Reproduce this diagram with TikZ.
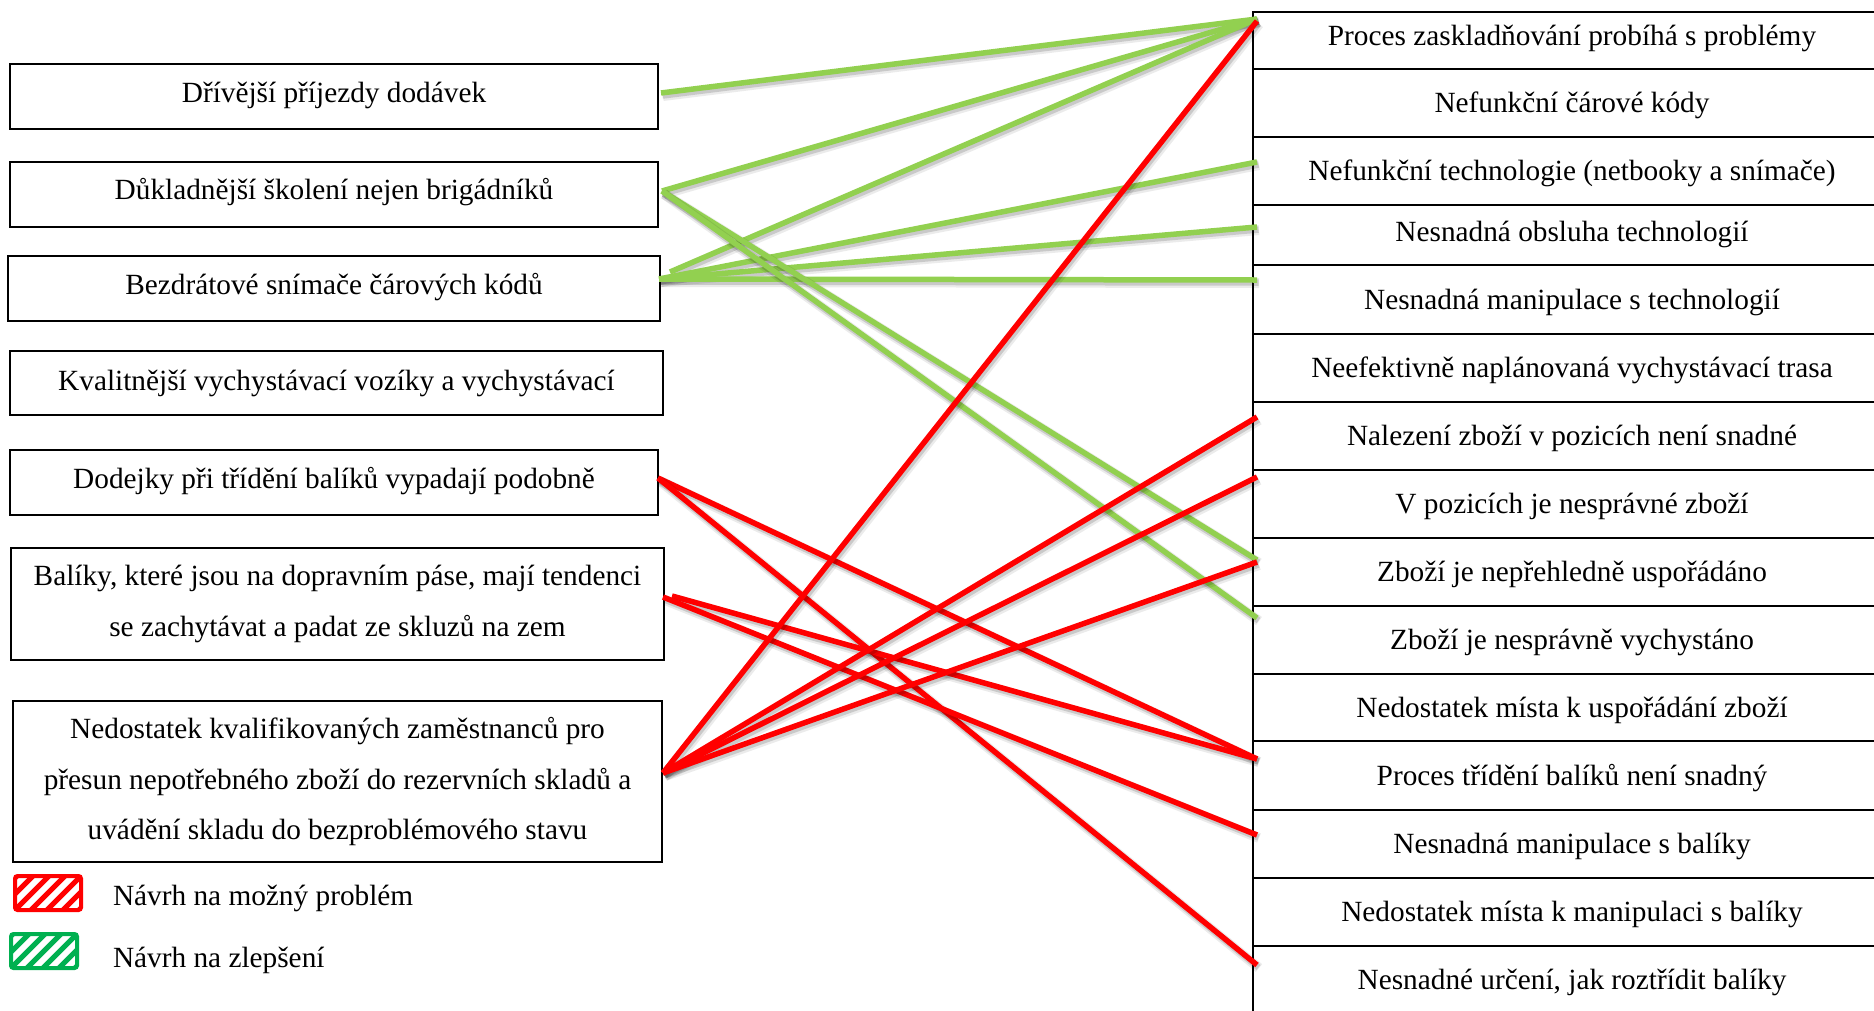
\documentclass[tikz,border=0pt]{standalone}
\usepackage{fontspec}
\setmainfont{Liberation Serif}
\definecolor{linkgreen}{HTML}{92D050}
\definecolor{legendgreen}{HTML}{00B050}
\definecolor{linkred}{HTML}{FF0000}

% one connector: two soft grey offset strokes under the coloured line
\newcommand\linkline[3]{%
  \draw[softshadowwide] ([shift={(2,3)}]#2) -- ([shift={(2,3)}]#3);
  \draw[softshadowthin] ([shift={(1.5,2.5)}]#2) -- ([shift={(1.5,2.5)}]#3);
  \draw[#1] (#2) -- (#3);}

\begin{document}
\begin{tikzpicture}[x=1pt, y=-1pt,
  every node/.style={font=\fontsize{29.3}{50.5}\selectfont, inner sep=0pt, outer sep=0pt},
  cause/.style={draw=black, line width=1.6pt, align=center},
  effect/.style={anchor=north west, minimum width=638pt, text height=24pt, text depth=5pt},
  tablerule/.style={draw=black, line width=2.6pt},
  softshadowwide/.style={draw=black, draw opacity=0.08, line width=10pt},
  softshadowthin/.style={draw=black, draw opacity=0.14, line width=6.5pt},
  improve/.style={draw=linkgreen, line width=5.5pt},
  problem/.style={draw=linkred, line width=5.5pt},
  legendbox/.style={draw=#1, line width=4pt, rounded corners=2.5pt,
    minimum width=66pt, minimum height=34pt,
    path picture={\foreach \k in {-3,...,6}{
      \draw[#1, line width=5pt] ([xshift=\k*16pt]path picture bounding box.south west) -- ++(40,-40);}}},
]
\useasboundingbox (0,0) rectangle (1874,1010);
\fill[white] (0,0) rectangle (1874,1010);

% ---- proposals (left column)
\node[cause, minimum width=648pt, minimum height=65pt, text height=20pt, text depth=9pt]
  (b1) at (334,96.5) {Dřívější příjezdy dodávek};
\node[cause, minimum width=648pt, minimum height=65pt, text height=20pt, text depth=10pt]
  (b2) at (334,194.5) {Důkladnější školení nejen brigádníků};
\node[cause, minimum width=652pt, minimum height=65pt, text height=21pt, text depth=9pt]
  (b3) at (334,288.5) {Bezdrátové snímače čárových kódů};
\node[cause, minimum width=653pt, minimum height=64pt, text height=21pt, text depth=7pt]
  (b4) at (336.5,383) {Kvalitnější vychystávací vozíky a vychystávací};
\node[cause, minimum width=648pt, minimum height=65pt, text height=20pt, text depth=9pt]
  (b5) at (334,482.5) {Dodejky při třídění balíků vypadají podobně};
\node[cause, minimum width=653pt, minimum height=112pt]
  (b6) at (337.5,604) {Balíky, které jsou na dopravním páse, mají tendenci\\se zachytávat a padat ze skluzů na zem};
\node[cause, minimum width=649pt, minimum height=161pt]
  (b7) at (337.5,781.5) {Nedostatek kvalifikovaných zaměstnanců pro\\přesun nepotřebného zboží do rezervních skladů a\\uvádění skladu do bezproblémového stavu};

% ---- problems (right column, one row each)
\node[effect, minimum height=57pt, text height=20pt, text depth=11pt] (r1) at (1253,12) {Proces zaskladňování probíhá s problémy};
\node[effect, minimum height=68pt] (r2) at (r1.south west) {Nefunkční čárové kódy};
\node[effect, minimum height=68pt] (r3) at (r2.south west) {Nefunkční technologie (netbooky a snímače)};
\node[effect, minimum height=60pt, text height=21pt, text depth=9pt] (r4) at (r3.south west) {Nesnadná obsluha technologií};
\node[effect, minimum height=69pt] (r5) at (r4.south west) {Nesnadná manipulace s technologií};
\node[effect, minimum height=68pt] (r6) at (r5.south west) {Neefektivně naplánovaná vychystávací trasa};
\node[effect, minimum height=68pt] (r7) at (r6.south west) {Nalezení zboží v pozicích není snadné};
\node[effect, minimum height=68pt] (r8) at (r7.south west) {V pozicích je nesprávné zboží};
\node[effect, minimum height=68pt] (r9) at (r8.south west) {Zboží je nepřehledně uspořádáno};
\node[effect, minimum height=68pt] (r10) at (r9.south west) {Zboží je nesprávně vychystáno};
\node[effect, minimum height=67pt] (r11) at (r10.south west) {Nedostatek místa k uspořádání zboží};
\node[effect, minimum height=69pt] (r12) at (r11.south west) {Proces třídění balíků není snadný};
\node[effect, minimum height=68pt] (r13) at (r12.south west) {Nesnadná manipulace s balíky};
\node[effect, minimum height=68pt] (r14) at (r13.south west) {Nedostatek místa k manipulaci s balíky};
\node[effect, minimum height=66pt, text height=25pt, text depth=5pt] (r15) at (r14.south west) {Nesnadné určení, jak roztřídit balíky};

% table rules
\draw[tablerule] (r1.north east) -- (r1.north west) -- (r15.south west);
\foreach \r in {r2,r3,r4,r5,r6,r7,r8,r9,r10,r11,r12,r13,r14,r15}
  \draw[tablerule] (\r.north west) -- (\r.north east);

% ---- connector end points
\coordinate (sB1)  at ([shift={(3,-3.5)}]b1.east);
\coordinate (sB2)  at ([shift={(4,-3.5)}]b2.east);
\coordinate (sB3)  at ([shift={(-1,-9.5)}]b3.east);
\coordinate (sB3a) at ([shift={(10,-16.5)}]b3.east);
\coordinate (sB5)  at ([shift={(0,-4.5)}]b5.east);
\coordinate (sB6)  at ([shift={(-1,-7)}]b6.east);
\coordinate (sB6a) at ([shift={(8,-8)}]b6.east);
\coordinate (sB7)  at ([shift={(1,-8.5)}]b7.east);

\coordinate (eR1g) at ([shift={(4,7)}]r1.north west);
\coordinate (eR1r) at ([shift={(4,9)}]r1.north west);
\coordinate (eR3)  at ([shift={(4,25)}]r3.north west);
\coordinate (eR4)  at ([shift={(4,22)}]r4.north west);
\coordinate (eR5)  at ([shift={(4,15)}]r5.north west);
\coordinate (eR7)  at ([shift={(4,15)}]r7.north west);
\coordinate (eR8)  at ([shift={(4,7)}]r8.north west);
\coordinate (eR9g) at ([shift={(4,22)}]r9.north west);
\coordinate (eR9r) at ([shift={(4,24)}]r9.north west);
\coordinate (eR10) at ([shift={(4,12)}]r10.north west);
\coordinate (eR12) at ([shift={(4,18)}]r12.north west);
\coordinate (eR13) at ([shift={(4,25)}]r13.north west);
\coordinate (eR15) at ([shift={(4,19)}]r15.north west);

% ---- improvement links
\linkline{improve}{sB1}{eR1g}
\linkline{improve}{sB2}{eR1g}
\linkline{improve}{sB3a}{eR1g}
\linkline{improve}{sB3}{eR3}
\linkline{improve}{sB3}{eR4}
\linkline{improve}{sB3}{eR5}
\linkline{improve}{sB2}{eR9g}
\linkline{improve}{sB2}{eR10}

% ---- problem links
\linkline{problem}{sB5}{eR12}
\linkline{problem}{sB5}{eR15}
\linkline{problem}{sB6a}{eR12}
\linkline{problem}{sB6}{eR13}
\linkline{problem}{sB7}{eR1r}
\linkline{problem}{sB7}{eR7}
\linkline{problem}{sB7}{eR8}
\linkline{problem}{sB7}{eR9r}

% ---- legend
\node[legendbox=linkred] (lgP) at (48,893) {};
\node[anchor=base west] (ltP) at (113,905) {Návrh na možný problém};
\node[legendbox=legendgreen] (lgG) at (44,951) {};
\node[anchor=base west] (ltG) at (113,967) {Návrh na zlepšení};
\end{tikzpicture}
\end{document}
